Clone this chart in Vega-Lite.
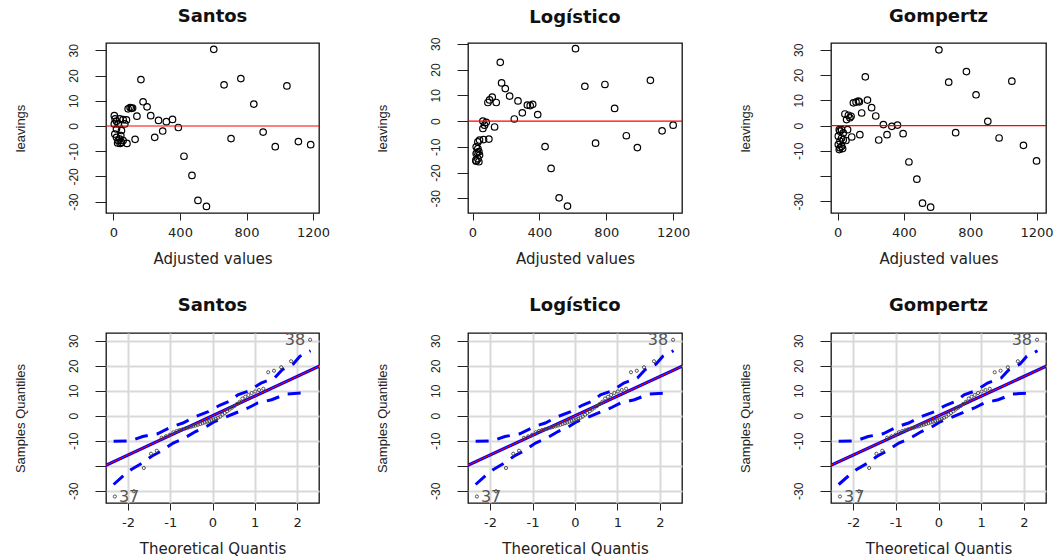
{
  "$schema": "https://vega.github.io/schema/vega-lite/v6.json",
  "background": "white",
  "padding": {"left": 13, "top": 7, "right": 0, "bottom": 0},
  "autosize": {"type": "pad"},
  "bounds": "flush",
  "columns": 3,
  "spacing": {"row": 120, "column": 149},
  "datasets": {
    "santos": [
      {"fitted": 603, "resid": 30.4}, {"fitted": 665, "resid": 16.3}, {"fitted": 766, "resid": 18.8}, {"fitted": 1043, "resid": 15.9},
      {"fitted": 844, "resid": 8.7}, {"fitted": 900, "resid": -2.4}, {"fitted": 707, "resid": -5.0}, {"fitted": 973, "resid": -8.2},
      {"fitted": 1112, "resid": -6.2}, {"fitted": 1186, "resid": -7.4}, {"fitted": 424, "resid": -12.0}, {"fitted": 472, "resid": -19.6},
      {"fitted": 508, "resid": -29.5}, {"fitted": 559, "resid": -31.9}, {"fitted": 390, "resid": -0.6}, {"fitted": 355, "resid": 2.6},
      {"fitted": 318, "resid": 1.7}, {"fitted": 296, "resid": -2.0}, {"fitted": 271, "resid": 2.2}, {"fitted": 248, "resid": -4.5},
      {"fitted": 224, "resid": 4.1}, {"fitted": 202, "resid": 7.6}, {"fitted": 178, "resid": 9.6}, {"fitted": 165, "resid": 18.4},
      {"fitted": 141, "resid": 3.9}, {"fitted": 130, "resid": -5.3}, {"fitted": 108, "resid": 7.0}, {"fitted": 88, "resid": 6.8},
      {"fitted": 100, "resid": 7.3}, {"fitted": 115, "resid": 7.1}, {"fitted": 81, "resid": -6.9},
      {"fitted": 5, "resid": 4.1}, {"fitted": 10, "resid": 2.8}, {"fitted": 18, "resid": 1.9}, {"fitted": 38, "resid": 2.8},
      {"fitted": 58, "resid": 2.5}, {"fitted": 78, "resid": 2.4}, {"fitted": 5, "resid": 0.8}, {"fitted": 28, "resid": 0.8},
      {"fitted": 68, "resid": 0.8}, {"fitted": 18, "resid": -1.2}, {"fitted": 48, "resid": -1.8}, {"fitted": 8, "resid": -3.2},
      {"fitted": 18, "resid": -4.5}, {"fitted": 28, "resid": -5.8}, {"fitted": 48, "resid": -6.5}, {"fitted": 58, "resid": -5.8},
      {"fitted": 38, "resid": -5.2}, {"fitted": 44, "resid": -3.8}, {"fitted": 25, "resid": -6.7}, {"fitted": 40, "resid": -6.9}
    ],
    "logistico": [
      {"fitted": 616, "resid": 28.1}, {"fitted": 166, "resid": 22.8}, {"fitted": 672, "resid": 13.5}, {"fitted": 792, "resid": 14.2},
      {"fitted": 1064, "resid": 15.8}, {"fitted": 850, "resid": 4.9}, {"fitted": 174, "resid": 14.8}, {"fitted": 196, "resid": 12.6},
      {"fitted": 222, "resid": 9.7}, {"fitted": 272, "resid": 7.8}, {"fitted": 328, "resid": 6.2}, {"fitted": 345, "resid": 6.0},
      {"fitted": 360, "resid": 6.5}, {"fitted": 298, "resid": 3.2}, {"fitted": 390, "resid": 2.5}, {"fitted": 250, "resid": 0.8},
      {"fitted": 920, "resid": -5.7}, {"fitted": 736, "resid": -8.6}, {"fitted": 986, "resid": -10.3}, {"fitted": 1134, "resid": -3.8},
      {"fitted": 1200, "resid": -1.6}, {"fitted": 434, "resid": -9.9}, {"fitted": 470, "resid": -18.4}, {"fitted": 518, "resid": -29.8},
      {"fitted": 568, "resid": -33.0}, {"fitted": 118, "resid": 9.3}, {"fitted": 102, "resid": 8.2}, {"fitted": 92, "resid": 7.2},
      {"fitted": 142, "resid": 7.2}, {"fitted": 62, "resid": 0.0}, {"fitted": 82, "resid": -0.5}, {"fitted": 72, "resid": -1.6},
      {"fitted": 132, "resid": -2.3}, {"fitted": 62, "resid": -2.9}, {"fitted": 98, "resid": -7.0}, {"fitted": 32, "resid": -8.1},
      {"fitted": 42, "resid": -7.4}, {"fitted": 66, "resid": -7.2}, {"fitted": 22, "resid": -10.0}, {"fitted": 32, "resid": -10.7},
      {"fitted": 38, "resid": -11.9}, {"fitted": 22, "resid": -12.6}, {"fitted": 42, "resid": -13.2}, {"fitted": 32, "resid": -14.6},
      {"fitted": 22, "resid": -15.6}, {"fitted": 38, "resid": -15.8}, {"fitted": 20, "resid": -15.2}, {"fitted": 28, "resid": -12.2}
    ],
    "gompertz": [
      {"fitted": 611, "resid": 30.0}, {"fitted": 167, "resid": 19.3}, {"fitted": 670, "resid": 17.2}, {"fitted": 777, "resid": 21.4},
      {"fitted": 1051, "resid": 17.6}, {"fitted": 835, "resid": 12.2}, {"fitted": 906, "resid": 1.7}, {"fitted": 712, "resid": -2.8},
      {"fitted": 974, "resid": -4.9}, {"fitted": 1121, "resid": -7.8}, {"fitted": 1200, "resid": -14.0}, {"fitted": 430, "resid": -14.4},
      {"fitted": 478, "resid": -21.2}, {"fitted": 512, "resid": -30.7}, {"fitted": 561, "resid": -32.3}, {"fitted": 180, "resid": 10.1},
      {"fitted": 205, "resid": 7.1}, {"fitted": 230, "resid": 3.8}, {"fitted": 276, "resid": 0.4}, {"fitted": 361, "resid": 0.2},
      {"fitted": 327, "resid": -0.3}, {"fitted": 395, "resid": -3.2}, {"fitted": 298, "resid": -3.6}, {"fitted": 248, "resid": -5.7},
      {"fitted": 134, "resid": -3.6}, {"fitted": 145, "resid": 5.0}, {"fitted": 85, "resid": -4.5}, {"fitted": 95, "resid": 9.0},
      {"fitted": 111, "resid": 9.3}, {"fitted": 125, "resid": 9.7}, {"fitted": 131, "resid": 9.4}, {"fitted": 44, "resid": 4.6},
      {"fitted": 65, "resid": 4.1}, {"fitted": 74, "resid": 3.1}, {"fitted": 54, "resid": 2.4}, {"fitted": 81, "resid": 3.7},
      {"fitted": 10, "resid": -1.6}, {"fitted": 24, "resid": -1.6}, {"fitted": 14, "resid": -2.2}, {"fitted": 34, "resid": -2.9},
      {"fitted": 4, "resid": -4.2}, {"fitted": 24, "resid": -4.9}, {"fitted": 14, "resid": -6.2}, {"fitted": 34, "resid": -5.6},
      {"fitted": 4, "resid": -7.5}, {"fitted": 24, "resid": -8.2}, {"fitted": 14, "resid": -8.8}, {"fitted": 30, "resid": -9.1},
      {"fitted": 10, "resid": -9.5}, {"fitted": 50, "resid": -5.9}, {"fitted": 60, "resid": -1.6}
    ],
    "zero": [{"resid": 0}],
    "qq": [
      {"q": -2.31, "y": -32.3}, {"q": -1.86, "y": -30.2}, {"q": -1.625, "y": -20.9}, {"q": -1.455, "y": -15.2},
      {"q": -1.318, "y": -14.0}, {"q": -1.203, "y": -8.8}, {"q": -1.101, "y": -8.2}, {"q": -1.01, "y": -7.6},
      {"q": -0.926, "y": -6.6}, {"q": -0.849, "y": -6.1}, {"q": -0.776, "y": -5.7}, {"q": -0.708, "y": -5.4},
      {"q": -0.643, "y": -5.1}, {"q": -0.579, "y": -4.8}, {"q": -0.519, "y": -4.5}, {"q": -0.46, "y": -4.2},
      {"q": -0.402, "y": -3.9}, {"q": -0.346, "y": -3.6}, {"q": -0.291, "y": -3.3}, {"q": -0.237, "y": -3.0},
      {"q": -0.184, "y": -2.7}, {"q": -0.131, "y": -2.4}, {"q": -0.078, "y": -2.1}, {"q": -0.026, "y": -1.8},
      {"q": 0.026, "y": -1.5}, {"q": 0.078, "y": -1.2}, {"q": 0.131, "y": -0.8}, {"q": 0.184, "y": -0.3},
      {"q": 0.237, "y": 0.4}, {"q": 0.291, "y": 1.1}, {"q": 0.346, "y": 1.8}, {"q": 0.402, "y": 2.5},
      {"q": 0.46, "y": 3.2}, {"q": 0.519, "y": 3.9}, {"q": 0.579, "y": 4.7}, {"q": 0.643, "y": 5.6},
      {"q": 0.708, "y": 6.9}, {"q": 0.776, "y": 7.6}, {"q": 0.849, "y": 8.3}, {"q": 0.926, "y": 9.1},
      {"q": 1.01, "y": 9.7}, {"q": 1.101, "y": 10.3}, {"q": 1.203, "y": 10.8}, {"q": 1.318, "y": 17.4},
      {"q": 1.455, "y": 18.0}, {"q": 1.625, "y": 19.4}, {"q": 1.86, "y": 21.8}, {"q": 2.31, "y": 30.4}
    ],
    "qqlab": [
      {"q": 2.31, "y": 30.4, "label": "38"},
      {"q": -2.31, "y": -32.3, "label": "37"}
    ],
    "ref": [
      {"q": -2.6, "y": -20.4}, {"q": 2.6, "y": 20.4}
    ],
    "env": [
      {"side": "upper", "q": -2.34, "y": -10.2}, {"side": "upper", "q": -1.95, "y": -10.1}, {"side": "upper", "q": -1.65, "y": -8.3},
      {"side": "upper", "q": -1.3, "y": -7.2}, {"side": "upper", "q": -0.95, "y": -4.3}, {"side": "upper", "q": -0.7, "y": -2.9},
      {"side": "upper", "q": -0.4, "y": -0.3}, {"side": "upper", "q": -0.1, "y": 1.6}, {"side": "upper", "q": 0.17, "y": 4.2},
      {"side": "upper", "q": 0.42, "y": 5.9}, {"side": "upper", "q": 0.6, "y": 8.4}, {"side": "upper", "q": 0.87, "y": 10.0},
      {"side": "upper", "q": 1.15, "y": 13.1}, {"side": "upper", "q": 1.47, "y": 15.1}, {"side": "upper", "q": 1.65, "y": 18.4},
      {"side": "upper", "q": 1.91, "y": 20.7}, {"side": "upper", "q": 2.07, "y": 23.8}, {"side": "upper", "q": 2.32, "y": 26.0},
      {"side": "lower", "q": -2.34, "y": -27.5}, {"side": "lower", "q": -2.12, "y": -24.2}, {"side": "lower", "q": -1.93, "y": -21.6},
      {"side": "lower", "q": -1.66, "y": -18.9}, {"side": "lower", "q": -1.44, "y": -16.2}, {"side": "lower", "q": -1.2, "y": -14.0},
      {"side": "lower", "q": -0.93, "y": -10.9}, {"side": "lower", "q": -0.69, "y": -9.2}, {"side": "lower", "q": -0.4, "y": -6.3},
      {"side": "lower", "q": -0.18, "y": -4.7}, {"side": "lower", "q": 0.05, "y": -2.3}, {"side": "lower", "q": 0.29, "y": -0.7},
      {"side": "lower", "q": 0.6, "y": 1.5}, {"side": "lower", "q": 0.84, "y": 3.1}, {"side": "lower", "q": 1.07, "y": 5.1},
      {"side": "lower", "q": 1.4, "y": 6.4}, {"side": "lower", "q": 1.74, "y": 8.7}, {"side": "lower", "q": 2.12, "y": 9.1}
    ]
  },
  "concat": [
    {
      "title": "Santos", "width": 213, "height": 170,
      "layer": [
        {"data": {"name": "santos"},
         "mark": {"type": "point", "shape": "circle", "filled": false, "color": "black", "size": 42, "strokeWidth": 1.2, "opacity": 1},
         "encoding": {
           "x": {"field": "fitted", "type": "quantitative", "scale": {"domain": [-45, 1236], "nice": false, "zero": false},
                 "axis": {"values": [0, 400, 800, 1200], "tickCount": 20, "title": "Adjusted values", "labelOverlap": false, "labelExpr": "'' + datum.value"}},
           "y": {"field": "resid", "type": "quantitative", "scale": {"domain": [-34.5, 32.9], "nice": false, "zero": false},
                 "axis": {"values": [-30, -20, -10, 0, 10, 20, 30], "tickCount": 20, "title": "leavings", "labelOverlap": false, "labelExpr": "datum.value < 0 ? '-' + abs(datum.value) : '' + datum.value"}}
         }},
        {"data": {"name": "zero"}, "mark": {"type": "rule", "color": "#ff0000", "strokeWidth": 1.2},
         "encoding": {"y": {"field": "resid", "type": "quantitative"}}}
      ]
    },
    {
      "title": {"text": "Logístico", "dy": 7}, "width": 214, "height": 170,
      "layer": [
        {"data": {"name": "logistico"},
         "mark": {"type": "point", "shape": "circle", "filled": false, "color": "black", "size": 42, "strokeWidth": 1.2, "opacity": 1},
         "encoding": {
           "x": {"field": "fitted", "type": "quantitative", "scale": {"domain": [-27, 1253], "nice": false, "zero": false},
                 "axis": {"values": [0, 400, 800, 1200], "tickCount": 20, "title": "Adjusted values", "labelOverlap": false, "labelExpr": "'' + datum.value"}},
           "y": {"field": "resid", "type": "quantitative", "scale": {"domain": [-35.7, 30.3], "nice": false, "zero": false},
                 "axis": {"values": [-30, -20, -10, 0, 10, 20, 30], "tickCount": 20, "title": "leavings", "labelOverlap": false, "labelExpr": "datum.value < 0 ? '-' + abs(datum.value) : '' + datum.value"}}
         }},
        {"data": {"name": "zero"}, "mark": {"type": "rule", "color": "#ff0000", "strokeWidth": 1.2},
         "encoding": {"y": {"field": "resid", "type": "quantitative"}}}
      ]
    },
    {
      "title": "Gompertz", "width": 215, "height": 170,
      "layer": [
        {"data": {"name": "gompertz"},
         "mark": {"type": "point", "shape": "circle", "filled": false, "color": "black", "size": 42, "strokeWidth": 1.2, "opacity": 1},
         "encoding": {
           "x": {"field": "fitted", "type": "quantitative", "scale": {"domain": [-40, 1257], "nice": false, "zero": false},
                 "axis": {"values": [0, 400, 800, 1200], "tickCount": 20, "title": "Adjusted values", "labelOverlap": false, "labelExpr": "'' + datum.value"}},
           "y": {"field": "resid", "type": "quantitative", "scale": {"domain": [-34.6, 32.7], "nice": false, "zero": false},
                 "axis": {"values": [-30, -20, -10, 0, 10, 20, 30], "tickCount": 20, "title": "leavings", "labelOverlap": false, "labelExpr": "datum.value == -20 ? '' : (datum.value < 0 ? '-' + abs(datum.value) : '' + datum.value)"}}
         }},
        {"data": {"name": "zero"}, "mark": {"type": "rule", "color": "#ff0000", "strokeWidth": 1.2},
         "encoding": {"y": {"field": "resid", "type": "quantitative"}}}
      ]
    },
    {
      "title": "Santos", "width": 213, "height": 170,
      "layer": [
        {"data": {"name": "env"},
         "mark": {"type": "line", "color": "#0000ff", "strokeWidth": 3, "strokeDash": [13, 9], "clip": true},
         "encoding": {
           "x": {"field": "q", "type": "quantitative", "scale": {"domain": [-2.52, 2.52], "nice": false, "zero": false},
                 "axis": {"values": [-2, -1, 0, 1, 2], "tickCount": 20, "title": "Theoretical Quantis", "labelOverlap": false, "grid": true, "gridColor": "#d9d9d9", "gridWidth": 2, "labelExpr": "datum.value < 0 ? '-' + abs(datum.value) : '' + datum.value"}},
           "y": {"field": "y", "type": "quantitative", "scale": {"domain": [-34.9, 33.1], "nice": false, "zero": false},
                 "axis": {"values": [-30, -20, -10, 0, 10, 20, 30], "tickCount": 20, "title": "Samples Quantiles", "labelOverlap": false, "grid": true, "gridColor": "#d9d9d9", "gridWidth": 2, "labelExpr": "datum.value == -20 ? '' : (datum.value < 0 ? '-' + abs(datum.value) : '' + datum.value)"}},
           "detail": {"field": "side", "type": "nominal"}
         }},
        {"data": {"name": "ref"}, "mark": {"type": "line", "color": "#0000ff", "strokeWidth": 3.2, "clip": true},
         "encoding": {"x": {"field": "q", "type": "quantitative"}, "y": {"field": "y", "type": "quantitative"}}},
        {"data": {"name": "ref"}, "mark": {"type": "line", "color": "#ff0000", "strokeWidth": 1, "clip": true},
         "encoding": {"x": {"field": "q", "type": "quantitative"}, "y": {"field": "y", "type": "quantitative"}}},
        {"data": {"name": "qq"}, "mark": {"type": "point", "shape": "circle", "filled": false, "color": "#444444", "size": 10, "strokeWidth": 0.9, "opacity": 1},
         "encoding": {"x": {"field": "q", "type": "quantitative"}, "y": {"field": "y", "type": "quantitative"}}},
        {"data": {"name": "qqlab"}, "transform": [{"filter": "datum.label == '38'"}],
         "mark": {"type": "text", "align": "right", "baseline": "middle", "dx": -5, "font": "DejaVu Sans", "fontSize": 16, "color": "#555555"},
         "encoding": {"x": {"field": "q", "type": "quantitative"}, "y": {"field": "y", "type": "quantitative"}, "text": {"field": "label"}}},
        {"data": {"name": "qqlab"}, "transform": [{"filter": "datum.label == '37'"}],
         "mark": {"type": "text", "align": "left", "baseline": "middle", "dx": 4, "font": "DejaVu Sans", "fontSize": 16, "color": "#555555"},
         "encoding": {"x": {"field": "q", "type": "quantitative"}, "y": {"field": "y", "type": "quantitative"}, "text": {"field": "label"}}}
      ]
    },
    {
      "title": "Logístico", "width": 214, "height": 170,
      "layer": [
        {"data": {"name": "env"},
         "mark": {"type": "line", "color": "#0000ff", "strokeWidth": 3, "strokeDash": [13, 9], "clip": true},
         "encoding": {
           "x": {"field": "q", "type": "quantitative", "scale": {"domain": [-2.52, 2.52], "nice": false, "zero": false},
                 "axis": {"values": [-2, -1, 0, 1, 2], "tickCount": 20, "title": "Theoretical Quantis", "labelOverlap": false, "grid": true, "gridColor": "#d9d9d9", "gridWidth": 2, "labelExpr": "datum.value < 0 ? '-' + abs(datum.value) : '' + datum.value"}},
           "y": {"field": "y", "type": "quantitative", "scale": {"domain": [-34.9, 33.1], "nice": false, "zero": false},
                 "axis": {"values": [-30, -20, -10, 0, 10, 20, 30], "tickCount": 20, "title": "Samples Quantiles", "labelOverlap": false, "grid": true, "gridColor": "#d9d9d9", "gridWidth": 2, "labelExpr": "datum.value == -20 ? '' : (datum.value < 0 ? '-' + abs(datum.value) : '' + datum.value)"}},
           "detail": {"field": "side", "type": "nominal"}
         }},
        {"data": {"name": "ref"}, "mark": {"type": "line", "color": "#0000ff", "strokeWidth": 3.2, "clip": true},
         "encoding": {"x": {"field": "q", "type": "quantitative"}, "y": {"field": "y", "type": "quantitative"}}},
        {"data": {"name": "ref"}, "mark": {"type": "line", "color": "#ff0000", "strokeWidth": 1, "clip": true},
         "encoding": {"x": {"field": "q", "type": "quantitative"}, "y": {"field": "y", "type": "quantitative"}}},
        {"data": {"name": "qq"}, "mark": {"type": "point", "shape": "circle", "filled": false, "color": "#444444", "size": 10, "strokeWidth": 0.9, "opacity": 1},
         "encoding": {"x": {"field": "q", "type": "quantitative"}, "y": {"field": "y", "type": "quantitative"}}},
        {"data": {"name": "qqlab"}, "transform": [{"filter": "datum.label == '38'"}],
         "mark": {"type": "text", "align": "right", "baseline": "middle", "dx": -5, "font": "DejaVu Sans", "fontSize": 16, "color": "#555555"},
         "encoding": {"x": {"field": "q", "type": "quantitative"}, "y": {"field": "y", "type": "quantitative"}, "text": {"field": "label"}}},
        {"data": {"name": "qqlab"}, "transform": [{"filter": "datum.label == '37'"}],
         "mark": {"type": "text", "align": "left", "baseline": "middle", "dx": 4, "font": "DejaVu Sans", "fontSize": 16, "color": "#555555"},
         "encoding": {"x": {"field": "q", "type": "quantitative"}, "y": {"field": "y", "type": "quantitative"}, "text": {"field": "label"}}}
      ]
    },
    {
      "title": "Gompertz", "width": 215, "height": 170,
      "layer": [
        {"data": {"name": "env"},
         "mark": {"type": "line", "color": "#0000ff", "strokeWidth": 3, "strokeDash": [13, 9], "clip": true},
         "encoding": {
           "x": {"field": "q", "type": "quantitative", "scale": {"domain": [-2.52, 2.52], "nice": false, "zero": false},
                 "axis": {"values": [-2, -1, 0, 1, 2], "tickCount": 20, "title": "Theoretical Quantis", "labelOverlap": false, "grid": true, "gridColor": "#d9d9d9", "gridWidth": 2, "labelExpr": "datum.value < 0 ? '-' + abs(datum.value) : '' + datum.value"}},
           "y": {"field": "y", "type": "quantitative", "scale": {"domain": [-34.9, 33.1], "nice": false, "zero": false},
                 "axis": {"values": [-30, -20, -10, 0, 10, 20, 30], "tickCount": 20, "title": "Samples Quantiles", "labelOverlap": false, "grid": true, "gridColor": "#d9d9d9", "gridWidth": 2, "labelExpr": "datum.value == -20 ? '' : (datum.value < 0 ? '-' + abs(datum.value) : '' + datum.value)"}},
           "detail": {"field": "side", "type": "nominal"}
         }},
        {"data": {"name": "ref"}, "mark": {"type": "line", "color": "#0000ff", "strokeWidth": 3.2, "clip": true},
         "encoding": {"x": {"field": "q", "type": "quantitative"}, "y": {"field": "y", "type": "quantitative"}}},
        {"data": {"name": "ref"}, "mark": {"type": "line", "color": "#ff0000", "strokeWidth": 1, "clip": true},
         "encoding": {"x": {"field": "q", "type": "quantitative"}, "y": {"field": "y", "type": "quantitative"}}},
        {"data": {"name": "qq"}, "mark": {"type": "point", "shape": "circle", "filled": false, "color": "#444444", "size": 10, "strokeWidth": 0.9, "opacity": 1},
         "encoding": {"x": {"field": "q", "type": "quantitative"}, "y": {"field": "y", "type": "quantitative"}}},
        {"data": {"name": "qqlab"}, "transform": [{"filter": "datum.label == '38'"}],
         "mark": {"type": "text", "align": "right", "baseline": "middle", "dx": -5, "font": "DejaVu Sans", "fontSize": 16, "color": "#555555"},
         "encoding": {"x": {"field": "q", "type": "quantitative"}, "y": {"field": "y", "type": "quantitative"}, "text": {"field": "label"}}},
        {"data": {"name": "qqlab"}, "transform": [{"filter": "datum.label == '37'"}],
         "mark": {"type": "text", "align": "left", "baseline": "middle", "dx": 4, "font": "DejaVu Sans", "fontSize": 16, "color": "#555555"},
         "encoding": {"x": {"field": "q", "type": "quantitative"}, "y": {"field": "y", "type": "quantitative"}, "text": {"field": "label"}}}
      ]
    }
  ],
  "config": {
    "view": {"stroke": "#111111", "strokeWidth": 1.3},
    "font": "DejaVu Sans",
    "title": {"font": "DejaVu Sans", "fontSize": 18, "fontWeight": "bold", "color": "#111111", "offset": 17, "anchor": "middle", "frame": "group"},
    "axis": {"domain": false, "grid": false, "tickColor": "#222222", "tickWidth": 1, "labelColor": "#222222", "titleColor": "#222222",
             "titleFontWeight": "normal", "labelFlush": false, "labelOverlap": false, "labelBound": false},
    "axisX": {"tickSize": 7, "labelFont": "DejaVu Sans", "labelFontSize": 13, "labelPadding": 6, "titleFont": "DejaVu Sans", "titleFontSize": 15, "titlePadding": 12},
    "axisY": {"tickSize": 11, "labelAngle": -90, "labelAlign": "center", "labelBaseline": "bottom", "labelFont": "Liberation Sans", "labelFontSize": 12, "labelPadding": 15,
              "titleFont": "Liberation Sans", "titleFontSize": 13, "titlePadding": 40}
  }
}
